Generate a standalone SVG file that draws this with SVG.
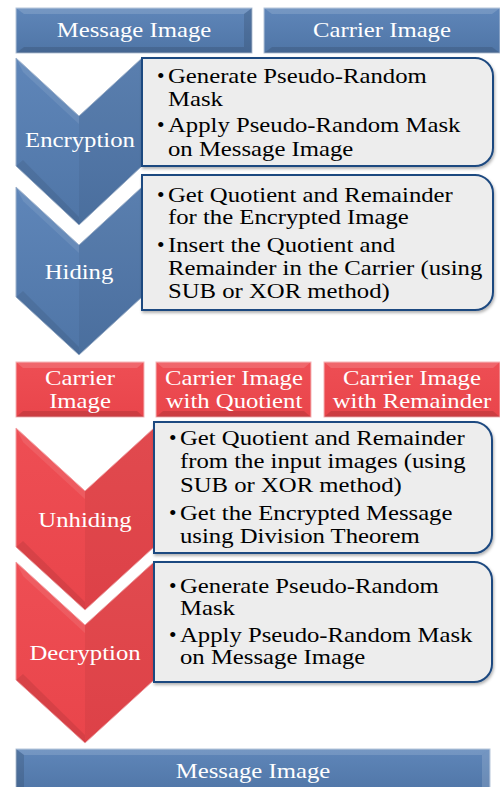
<svg xmlns="http://www.w3.org/2000/svg" width="500" height="787" viewBox="0 0 500 787" font-family="'Liberation Serif', 'DejaVu Serif', serif">
<style>
text{font-family:"Liberation Serif","DejaVu Serif",serif;font-size:21.5px}
.w{fill:#ffffff}
.b{fill:#000000}
.m{text-anchor:middle}
.box{fill:#ededed;stroke:#1f4a80;stroke-width:2}
.bl{fill:url(#gB);stroke:#9fb3cc;stroke-width:1}
.rd{fill:url(#gR);stroke:#f2a0a3;stroke-width:1}
.hb{fill:url(#gB);stroke:#b5c5da;stroke-width:1}
.hr{fill:url(#gR);stroke:#f5b5b7;stroke-width:1}
.lt{fill:#ffffff;opacity:0.14}
.dk{fill:#000000;opacity:0.12}
.lt3{fill:#ffffff;opacity:0.09}
.dk3{fill:#000000;opacity:0.08}
.dk2{fill:#000000;opacity:0.05}
</style>
<defs>
<linearGradient id="gB" x1="0" y1="0" x2="0" y2="1">
<stop offset="0" stop-color="#5f86b9"/>
<stop offset="1" stop-color="#4f75a6"/>
</linearGradient>
<linearGradient id="gR" x1="0" y1="0" x2="0" y2="1">
<stop offset="0" stop-color="#ee4e54"/>
<stop offset="1" stop-color="#e9454b"/>
</linearGradient>
<filter id="sh" x="-5%" y="-5%" width="110%" height="115%">
<feDropShadow dx="1" dy="2" stdDeviation="1.5" flood-color="#000" flood-opacity="0.3"/>
</filter>
</defs>

<g id="msg-top">
<rect class="hb" x="16" y="8" width="236" height="45"/>
<polygon class="lt" points="16,8 252,8 244,14 24,14"/>
<polygon class="dk" points="252,8 252,53 244,47 244,14"/>
<polygon class="dk" points="16,53 252,53 244,47 24,47"/>
<g transform="translate(134,0) scale(1.15,1)"><text class="w m" x="0" y="37">Message Image</text></g>
</g>

<g id="carrier-top">
<rect class="hb" x="264" y="8" width="236" height="45"/>
<polygon class="lt" points="264,8 500,8 492,14 272,14"/>
<polygon class="dk" points="264,53 500,53 492,47 272,47"/>
<g transform="translate(382,0) scale(1.15,1)"><text class="w m" x="0" y="37">Carrier Image</text></g>
</g>

<g id="encryption">
<polygon class="bl" points="16,58 79,116 142,58 142,166 79,225 16,166"/>
<polygon class="dk2" points="142,58 142,166 79,225 79,116"/>
<polygon class="lt3" points="16,58 79,116 79,124 23,72"/>
<polygon class="dk3" points="16,166 79,225 79,217 23,160"/>
<g transform="translate(80,0) scale(1.15,1)"><text class="w m" x="0" y="147">Encryption</text></g>
</g>
<g id="encryption-steps">
<path class="box" filter="url(#sh)" d="M142,58 H475 A18,18 0 0 1 493,76 V148 A18,18 0 0 1 475,166 H142 Z"/>
<text class="b" x="157" y="83">•</text>
<text class="b" x="157" y="132">•</text>
<g transform="translate(168,0) scale(1.15,1)">
<text class="b" x="0" y="83">Generate Pseudo-Random</text>
<text class="b" x="0" y="106">Mask</text>
<text class="b" x="0" y="132">Apply Pseudo-Random Mask</text>
<text class="b" x="0" y="156">on Message Image</text>
</g>
</g>

<g id="hiding">
<polygon class="bl" points="16,187 79,245 142,187 142,297 79,355 16,297"/>
<polygon class="dk2" points="142,187 142,297 79,355 79,245"/>
<polygon class="lt3" points="16,187 79,245 79,253 23,201"/>
<polygon class="dk3" points="16,297 79,355 79,347 23,291"/>
<g transform="translate(79,0) scale(1.15,1)"><text class="w m" x="0" y="279">Hiding</text></g>
</g>
<g id="hiding-steps">
<path class="box" filter="url(#sh)" d="M142,175 H475 A18,18 0 0 1 493,193 V292 A18,18 0 0 1 475,310 H142 Z"/>
<text class="b" x="157" y="202">•</text>
<text class="b" x="157" y="252">•</text>
<g transform="translate(168,0) scale(1.15,1)">
<text class="b" x="0" y="202">Get Quotient and Remainder</text>
<text class="b" x="0" y="224">for the Encrypted Image</text>
<text class="b" x="0" y="252">Insert the Quotient and</text>
<text class="b" x="0" y="275">Remainder in the Carrier (using</text>
<text class="b" x="0" y="298">SUB or XOR method)</text>
</g>
</g>

<g id="carrier-red">
<rect class="hr" x="16" y="362" width="128" height="55"/>
<polygon class="lt" points="16,362 144,362 137,368 23,368"/>
<polygon class="dk" points="16,417 144,417 137,411 23,411"/>
<g transform="translate(80,0) scale(1.15,1)">
<text class="w m" x="0" y="385">Carrier</text>
<text class="w m" x="0" y="408">Image</text>
</g>
</g>
<g id="carrier-quotient">
<rect class="hr" x="156" y="362" width="155" height="55"/>
<polygon class="lt" points="156,362 311,362 304,368 163,368"/>
<polygon class="dk" points="156,417 311,417 304,411 163,411"/>
<g transform="translate(234,0) scale(1.15,1)">
<text class="w m" x="0" y="385">Carrier Image</text>
<text class="w m" x="0" y="408">with Quotient</text>
</g>
</g>
<g id="carrier-remainder">
<rect class="hr" x="324" y="362" width="176" height="55"/>
<polygon class="lt" points="324,362 500,362 493,368 331,368"/>
<polygon class="dk" points="324,417 500,417 493,411 331,411"/>
<g transform="translate(412,0) scale(1.15,1)">
<text class="w m" x="0" y="385">Carrier Image</text>
<text class="w m" x="0" y="408">with Remainder</text>
</g>
</g>

<g id="unhiding">
<polygon class="rd" points="16,428 85,491 154,428 154,547 85,610 16,547"/>
<polygon class="dk2" points="154,428 154,547 85,610 85,491"/>
<polygon class="lt3" points="16,428 85,491 85,499 23,442"/>
<polygon class="dk3" points="16,547 85,610 85,602 23,541"/>
<g transform="translate(85,0) scale(1.15,1)"><text class="w m" x="0" y="527">Unhiding</text></g>
</g>
<g id="unhiding-steps">
<path class="box" filter="url(#sh)" d="M154,422 H474 A18,18 0 0 1 492,440 V535 A18,18 0 0 1 474,553 H154 Z"/>
<text class="b" x="169" y="445">•</text>
<text class="b" x="169" y="520">•</text>
<g transform="translate(180,0) scale(1.15,1)">
<text class="b" x="0" y="445">Get Quotient and Remainder</text>
<text class="b" x="0" y="468">from the input images (using</text>
<text class="b" x="0" y="492">SUB or XOR method)</text>
<text class="b" x="0" y="520">Get the Encrypted Message</text>
<text class="b" x="0" y="543">using Division Theorem</text>
</g>
</g>

<g id="decryption">
<polygon class="rd" points="16,562 85,625 154,562 154,680 85,743 16,680"/>
<polygon class="dk2" points="154,562 154,680 85,743 85,625"/>
<polygon class="lt3" points="16,562 85,625 85,633 23,576"/>
<polygon class="dk3" points="16,680 85,743 85,735 23,674"/>
<g transform="translate(85,0) scale(1.15,1)"><text class="w m" x="0" y="660">Decryption</text></g>
</g>
<g id="decryption-steps">
<path class="box" filter="url(#sh)" d="M154,562 H474 A18,18 0 0 1 492,580 V664 A18,18 0 0 1 474,682 H154 Z"/>
<text class="b" x="169" y="593">•</text>
<text class="b" x="169" y="642">•</text>
<g transform="translate(180,0) scale(1.15,1)">
<text class="b" x="0" y="593">Generate Pseudo-Random</text>
<text class="b" x="0" y="615">Mask</text>
<text class="b" x="0" y="642">Apply Pseudo-Random Mask</text>
<text class="b" x="0" y="664">on Message Image</text>
</g>
</g>

<g id="msg-bottom">
<rect class="hb" x="16" y="749" width="474" height="45"/>
<polygon class="lt" points="16,749 490,749 482,755 24,755"/>
<polygon class="dk" points="16,749 24,755 24,787 16,787"/>
<polygon class="lt" points="490,749 490,787 482,787 482,755"/>
<g transform="translate(253,0) scale(1.15,1)"><text class="w m" x="0" y="778">Message Image</text></g>
</g>

<g id="connectors"></g>
</svg>
